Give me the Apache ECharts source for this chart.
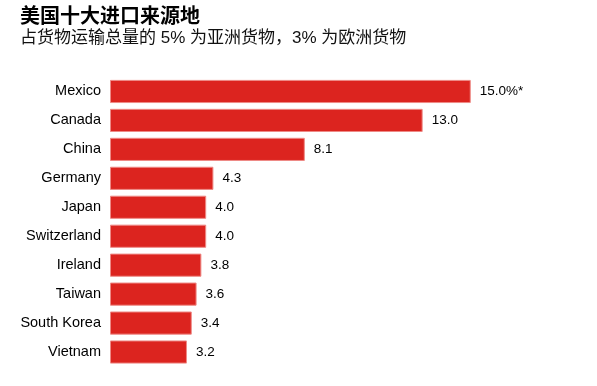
<!DOCTYPE html>
<html><head><meta charset="utf-8">
<script src="https://cdn.jsdelivr.net/npm/echarts@6/dist/echarts.min.js"></script>
<style>html,body{margin:0;padding:0;background:#fff}#c{width:597px;height:386px}</style>
</head><body><div id="c"></div>
<script>
const categories = ['Mexico','Canada','China','Germany','Japan','Switzerland','Ireland','Taiwan','South Korea','Vietnam'];
const values = [15.0, 13.0, 8.1, 4.3, 4.0, 4.0, 3.8, 3.6, 3.4, 3.2];
const valueLabels = ['15.0%*','13.0','8.1','4.3','4.0','4.0','3.8','3.6','3.4','3.2'];
const titleText = '美国十大进口来源地';
const subtitleText = '占货物运输总量的 5% 为亚洲货物，3% 为欧洲货物';

const chart = echarts.init(document.getElementById('c'), null, {renderer:'canvas'});
const font = '"Liberation Sans", Arial, "Noto Sans CJK SC", sans-serif';
chart.setOption({
  animation:false,
  backgroundColor:'#fff',
  title:{
    text:titleText, subtext:subtitleText, left:15, top:0, itemGap:5,
    textStyle:{fontSize:20, fontWeight:'bold', color:'#000', fontFamily:'"Noto Sans CJK SC", sans-serif'},
    subtextStyle:{fontSize:17, color:'#111', fontFamily:'"Liberation Sans", "Noto Sans CJK SC", sans-serif'}
  },
  grid:{left:110, top:77, width:481, height:289.5, containLabel:false},
  xAxis:{type:'value', min:0, max:20, show:false},
  yAxis:{type:'category', data:categories, inverse:true,
    axisLine:{show:false}, axisTick:{show:false}, splitLine:{show:false},
    axisLabel:{margin:9, fontSize:14.5, color:'#000', fontFamily:font}},
  series:[{
    type:'bar', data:values, barCategoryGap:'20%',
    itemStyle:{color:'#dc241f', borderColor:'#ee8a86', borderWidth:1},
    label:{show:true, position:'right', distance:9, fontSize:13.5, color:'#000', fontFamily:font,
      formatter:p=>valueLabels[p.dataIndex]}
  }]
});
</script></body></html>
